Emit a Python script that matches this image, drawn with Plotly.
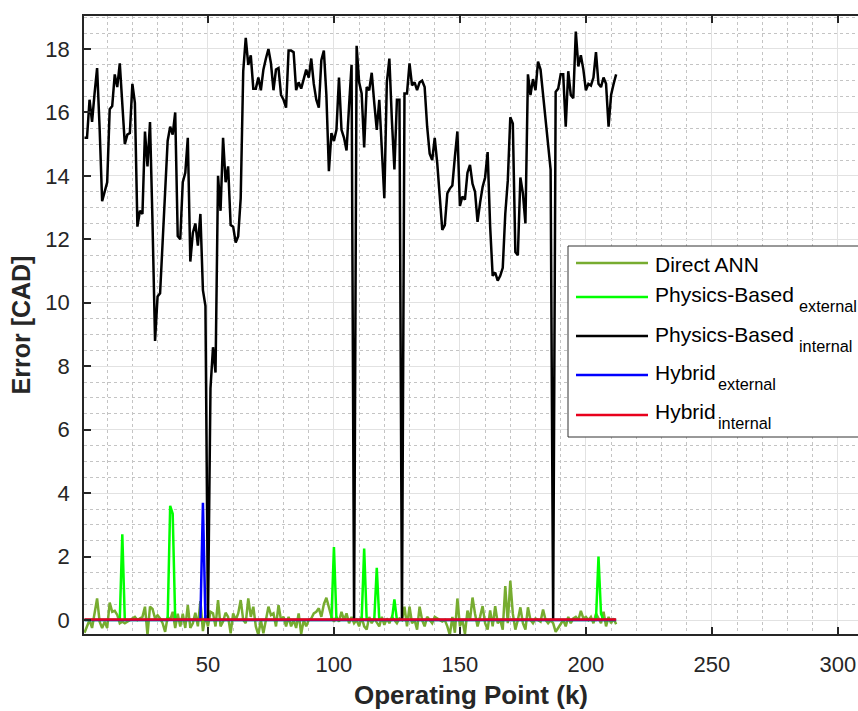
import plotly.graph_objects as go

# ---------------- data ----------------
direct_ann = [
    -0.40, -0.20, 0.00, -0.25, 0.20, 0.68, -0.05, -0.25, -0.05, -0.25,
    0.55, 0.26, 0.29, 0.16, -0.10, -0.05, -0.10, -0.05, 0.00, 0.05,
    0.10, 0.00, 0.05, 0.10, 0.42, -0.47, 0.42, 0.35, 0.05, 0.15,
    0.05, -0.10, -0.37, 0.10, 0.00, 0.26, -0.25, 0.20, -0.20, 0.20,
    -0.25, 0.47, -0.25, -0.10, 0.23, -0.20, 0.60, -0.35, 0.15, -0.20,
    0.26, 0.21, -0.20, 0.63, -0.20, -0.05, 0.23, 0.10, -0.42, 0.21,
    0.00, 0.21, 0.63, 0.00, -0.10, 0.68, 0.10, 0.42, -0.20, -0.47,
    0.00, -0.42, 0.00, 0.42, 0.16, 0.21, -0.20, 0.47, 0.00, 0.10,
    -0.20, 0.10, -0.20, 0.00, -0.25, 0.21, -0.44, 0.00, -0.20, 0.00,
    0.05, 0.21, 0.26, 0.37, 0.10, 0.50, 0.70, 0.40, 0.10, -0.05,
    0.10, -0.05, 0.26, 0.00, 0.21, -0.10, 0.10, -0.10, 0.00, -0.20,
    0.10, -0.20, -0.30, 0.10, -0.10, 0.05, -0.10, -0.20, 0.10, -0.15,
    0.05, -0.10, 0.10, 0.00, -0.10, 0.05, 0.00, 0.42, -0.20, 0.42,
    -0.10, 0.00, -0.30, 0.42, 0.00, -0.20, 0.10, 0.00, -0.10, 0.10,
    0.05, 0.00, -0.05, 0.00, -0.20, -0.47, 0.10, -0.40, 0.68, -0.20,
    0.00, -0.44, 0.30, 0.00, 0.71, 0.20, -0.20, 0.10, 0.44, -0.10,
    -0.30, 0.30, -0.20, 0.44, -0.10, 0.00, -0.30, 1.07, -0.10, 1.24,
    0.20, -0.30, 0.00, 0.40, -0.10, -0.30, 0.40, 0.00, -0.10, 0.05,
    0.00, -0.05, 0.33, 0.00, -0.10, 0.00, -0.10, -0.37, -0.25, -0.10,
    0.00, -0.20, 0.10, -0.10, 0.05, 0.10, 0.00, 0.29, 0.05, 0.10,
    0.00, 0.10, -0.10, 0.20, 0.05, -0.10, 0.26, -0.20, 0.10, -0.10,
    0.05, -0.13,
]

physics_internal = [
    15.2, 15.2, 16.4, 15.7, 16.6, 17.4, 15.5, 13.2, 13.5, 13.8,
    16.1, 16.2, 17.2, 16.8, 17.55, 16.2, 15.0, 15.3, 15.35, 16.9,
    16.3, 12.4, 12.9, 12.8, 15.4, 14.3, 15.7, 12.5, 8.8, 10.2,
    10.3, 11.9, 13.5, 15.1, 15.55, 15.3, 16.0, 12.1, 12.0, 13.8,
    14.1, 15.2, 11.3, 12.2, 12.5, 11.8, 12.8, 10.4, 9.9, 0.0,
    7.3, 8.6, 7.8, 14.0, 12.9, 15.2, 13.8, 14.3, 12.45, 12.4,
    11.9, 12.1, 13.3, 17.3, 18.35, 17.5, 17.8, 16.75, 16.75, 17.1,
    16.7, 17.35, 17.7, 18.0, 17.55, 16.7, 17.35, 17.4, 16.55, 16.4,
    16.15, 17.95, 17.95, 17.9, 16.7, 16.95, 16.75, 17.1, 17.35, 17.1,
    17.7, 16.9, 16.4, 16.15, 17.65, 17.95, 16.55, 14.15, 15.35, 15.1,
    15.45, 17.1, 15.45, 15.2, 14.8, 16.2, 17.5, 0.0, 18.1, 16.95,
    16.6, 14.9, 16.8, 16.7, 17.25, 16.3, 15.45, 16.4, 14.9, 13.3,
    16.95, 17.7, 15.75, 14.2, 16.4, 16.4, 0.0, 16.6, 16.6, 17.55,
    16.85, 16.95, 16.7, 16.95, 17.0, 16.8, 15.55, 14.7, 14.5, 15.2,
    14.4, 13.4, 12.3, 12.45, 13.45, 13.6, 13.7, 14.6, 15.4, 13.05,
    13.35, 13.25, 14.1, 14.35, 13.75, 13.5, 12.55, 13.15, 13.65, 13.95,
    14.75, 12.4, 10.85, 10.95, 10.7, 10.85, 11.1, 12.8, 13.85, 15.85,
    15.65, 11.6, 11.5, 13.95, 13.45, 12.5, 17.2, 16.55, 17.05, 16.7,
    17.6, 17.35, 16.5, 15.7, 15.0, 14.2, 0.0, 16.65, 16.75, 17.2,
    17.2, 15.55, 17.3, 16.55, 16.45, 18.55, 17.45, 17.8, 17.35, 16.7,
    16.9, 16.85, 17.1, 17.9, 16.9, 16.8, 17.1, 16.9, 15.55, 16.55,
    16.9, 17.2,
]

physics_external = [
    0, 0, 0, 0, 0, 0, 0, 0, 0, 0,          # 1-10
    0, 0, 0, 0, 0, 2.7, 0, 0, 0, 0,        # 11-20
    0, 0, 0, 0, 0, 0, 0, 0, 0, 0,          # 21-30
    0, 0, 0, 0, 3.6, 3.35, 0, 0, 0, 0,     # 31-40
    0, 0, 0, 0, 0, 0, 0, 0, 0, 0,          # 41-50
    0, 0, 0, 0, 0, 0, 0, 0, 0, 0,          # 51-60
    0, 0, 0, 0, 0, 0, 0, 0, 0, 0,          # 61-70
    0, 0, 0, 0, 0, 0, 0, 0, 0, 0,          # 71-80
    0, 0, 0, 0, 0, 0, 0, 0, 0, 0,          # 81-90
    0, 0, 0, 0, 0, 0, 0, 0, 0, 2.3,        # 91-100
    0, 0, 0, 0, 0, 0, 0, 0, 0, 0,          # 101-110
    0, 2.25, 0, 0, 0, 0, 1.65, 0, 0, 0,    # 111-120
    0, 0, 0, 0.65, 0, 0, 0, 0, 0, 0,       # 121-130
    0, 0, 0, 0, 0, 0, 0, 0, 0, 0,          # 131-140
    0, 0, 0, 0, 0, 0, 0, 0, 0, 0,          # 141-150
    0, 0, 0, 0, 0, 0, 0, 0, 0, 0,          # 151-160
    0, 0, 0, 0, 0, 0, 0, 0, 0, 0,          # 161-170
    0, 0, 0, 0, 0, 0, 0, 0, 0, 0,          # 171-180
    0, 0, 0, 0, 0, 0, 0, 0, 0, 0,          # 181-190
    0, 0, 0, 0, 0, 0, 0, 0, 0, 0,          # 191-200
    0, 0, 0, 0, 2.0, 0.2, 0, 0, 0, 0,      # 201-210
    0, 0,                                  # 211-212
]

hybrid_external = [
    0, 0, 0, 0, 0, 0, 0, 0, 0, 0,          # 1-10
    0, 0, 0, 0, 0, 0, 0, 0, 0, 0,          # 11-20
    0, 0, 0, 0, 0, 0, 0, 0, 0, 0,          # 21-30
    0, 0, 0, 0, 0, 0, 0, 0, 0, 0,          # 31-40
    0, 0, 0, 0, 0, 0, 0, 3.7, 0, 0,        # 41-50
    0, 0, 0, 0, 0, 0, 0, 0, 0, 0,          # 51-60
    0, 0, 0, 0, 0, 0, 0, 0, 0, 0,          # 61-70
    0, 0, 0, 0, 0, 0, 0, 0, 0, 0,          # 71-80
    0, 0, 0, 0, 0, 0, 0, 0, 0, 0,          # 81-90
    0, 0, 0, 0, 0, 0, 0, 0, 0, 0,          # 91-100
    0, 0, 0, 0, 0, 0, 0, 0, 0, 0,          # 101-110
    0, 0, 0, 0, 0, 0, 0, 0, 0, 0,          # 111-120
    0, 0, 0, 0, 0, 0, 0, 0, 0, 0,          # 121-130
    0, 0, 0, 0, 0, 0, 0, 0, 0, 0,          # 131-140
    0, 0, 0, 0, 0, 0, 0, 0, 0, 0,          # 141-150
    0, 0, 0, 0, 0, 0, 0, 0, 0, 0,          # 151-160
    0, 0, 0, 0, 0, 0, 0, 0, 0, 0,          # 161-170
    0, 0, 0, 0, 0, 0, 0, 0, 0, 0,          # 171-180
    0, 0, 0, 0, 0, 0, 0, 0, 0, 0,          # 181-190
    0, 0, 0, 0, 0, 0, 0, 0, 0, 0,          # 191-200
    0, 0, 0, 0, 0, 0, 0, 0, 0, 0,          # 201-210
    0, 0,                                  # 211-212
]

hybrid_internal = [
    0.02, 0.02, 0.02, 0.02, 0.02, 0.02, 0.02, 0.02, 0.02, 0.02,
    0.02, 0.02, 0.02, 0.02, 0.02, 0.02, 0.02, 0.02, 0.02, 0.02,
    0.02, 0.02, 0.02, 0.02, 0.02, 0.02, 0.02, 0.02, 0.02, 0.02,
    0.02, 0.02, 0.02, 0.02, 0.02, 0.02, 0.02, 0.02, 0.02, 0.02,
    0.02, 0.02, 0.02, 0.02, 0.02, 0.02, 0.02, 0.02, 0.02, 0.02,
    0.02, 0.02, 0.02, 0.02, 0.02, 0.02, 0.02, 0.02, 0.02, 0.02,
    0.02, 0.02, 0.02, 0.02, 0.02, 0.02, 0.02, 0.02, 0.02, 0.02,
    0.02, 0.02, 0.02, 0.02, 0.02, 0.02, 0.02, 0.02, 0.02, 0.02,
    0.02, 0.02, 0.02, 0.02, 0.02, 0.02, 0.02, 0.02, 0.02, 0.02,
    0.02, 0.02, 0.02, 0.02, 0.02, 0.02, 0.02, 0.02, 0.02, 0.02,
    0.02, 0.02, 0.02, 0.02, 0.02, 0.02, 0.02, 0.02, 0.02, 0.02,
    0.02, 0.02, 0.02, 0.02, 0.02, 0.02, 0.02, 0.02, 0.02, 0.02,
    0.02, 0.02, 0.02, 0.02, 0.02, 0.02, 0.02, 0.02, 0.02, 0.02,
    0.02, 0.02, 0.02, 0.02, 0.02, 0.02, 0.02, 0.02, 0.02, 0.02,
    0.02, 0.02, 0.02, 0.02, 0.02, 0.02, 0.02, 0.02, 0.02, 0.02,
    0.02, 0.02, 0.02, 0.02, 0.02, 0.02, 0.02, 0.02, 0.02, 0.02,
    0.02, 0.02, 0.02, 0.02, 0.02, 0.02, 0.02, 0.02, 0.02, 0.02,
    0.02, 0.02, 0.02, 0.02, 0.02, 0.02, 0.02, 0.02, 0.02, 0.02,
    0.02, 0.02, 0.02, 0.02, 0.02, 0.02, 0.02, 0.02, 0.02, 0.02,
    0.02, 0.02, 0.02, 0.02, 0.02, 0.02, 0.02, 0.02, 0.02, 0.02,
    0.02, 0.02, 0.02, 0.02, 0.02, 0.02, 0.02, 0.02, 0.02, 0.02,
    0.02, 0.02,
]

series_main = ["Direct ANN", "Physics-Based", "Physics-Based", "Hybrid", "Hybrid"]
series_sub = ["", "external", "internal", "external", "internal"]
series_values = [direct_ann, physics_external, physics_internal, hybrid_external, hybrid_internal]
series_colors = ["#77AC30", "#00FF00", "#000000", "#0000FF", "#E8001C"]

x_ticks = [50, 100, 150, 200, 250, 300]
y_ticks = [0, 2, 4, 6, 8, 10, 12, 14, 16, 18]

# ---------------- figure ----------------
FONT = "Liberation Sans, Arial, Helvetica, sans-serif"
AX = "#262626"

fig = go.Figure()
for main, sub, vals, col in zip(series_main, series_sub, series_values, series_colors):
    name = main + (f"<sub>{sub}</sub>" if sub else "")
    fig.add_trace(go.Scatter(
        x=list(range(1, len(vals) + 1)), y=vals, mode="lines", name=name,
        line=dict(color=col, width=2.5), showlegend=False,
    ))

W, H = 858, 711
ML, MR, MT, MB = 84, 0, 16, 77
pw, ph = W - ML - MR, H - MT - MB


def px_x(p):
    return (p - ML) / pw


def px_y(p):
    return (H - MB - p) / ph


shapes = []
annotations = []
# legend box (extends past the right edge like the reference)
shapes.append(dict(type="rect", xref="paper", yref="paper",
                   x0=px_x(568), x1=px_x(990), y0=px_y(437), y1=px_y(246),
                   fillcolor="white", line=dict(color="#333333", width=1), layer="above"))
sample_y = [263, 297, 336, 375, 415]
main_y = [264, 294, 334, 372, 411]
sub_x = [None, 797, 797, 716, 716]
for main, sub, col, sy, my, sx in zip(series_main, series_sub, series_colors, sample_y, main_y, sub_x):
    shapes.append(dict(type="line", xref="paper", yref="paper",
                       x0=px_x(576), x1=px_x(648), y0=px_y(sy), y1=px_y(sy),
                       line=dict(color=col, width=2.5), layer="above"))
    annotations.append(dict(xref="paper", yref="paper", x=px_x(653), y=px_y(my),
                            xanchor="left", yanchor="middle", showarrow=False,
                            text=main, font=dict(family=FONT, size=21, color="black")))
    if sub:
        annotations.append(dict(xref="paper", yref="paper", x=px_x(sx), y=px_y(my + 12),
                                xanchor="left", yanchor="middle", showarrow=False,
                                text=sub, font=dict(family=FONT, size=16.3, color="black")))

fig.update_layout(
    width=W, height=H,
    margin=dict(l=ML, r=MR, t=MT, b=MB, autoexpand=False),
    paper_bgcolor="white", plot_bgcolor="white",
    font=dict(family=FONT, color=AX),
    shapes=shapes, annotations=annotations,
    showlegend=False,
)
fig.update_xaxes(
    range=[0.8, 308], tickvals=x_ticks, ticktext=[str(v) for v in x_ticks],
    showline=True, linecolor=AX, linewidth=1.5, mirror="ticks",
    ticks="inside", ticklen=7, tickwidth=1.5, tickcolor=AX,
    showgrid=True, gridcolor="#e2e2e2", gridwidth=1,
    minor=dict(dtick=10, tick0=0, showgrid=True, gridcolor="#c4c4c4", griddash="dot", gridwidth=1),
    zeroline=False, tickfont=dict(size=22, color=AX, family=FONT),
    ticklabelstandoff=10,
    title=dict(text="<b>Operating Point (k)</b>", font=dict(size=26, color=AX, family=FONT), standoff=10),
    automargin=False,
)
fig.update_yaxes(
    range=[-0.44, 19.04], tickvals=y_ticks, ticktext=[str(v) for v in y_ticks],
    showline=True, linecolor=AX, linewidth=1.5, mirror=False,
    ticks="inside", ticklen=7, tickwidth=1.5, tickcolor=AX,
    showgrid=True, gridcolor="#e2e2e2", gridwidth=1,
    minor=dict(dtick=0.5, tick0=0, showgrid=True, gridcolor="#c4c4c4", griddash="dot", gridwidth=1),
    zeroline=False, tickfont=dict(size=22, color=AX, family=FONT),
    ticklabelstandoff=8,
    title=dict(text="<b>Error [CAD]</b>", font=dict(size=25, color=AX, family=FONT), standoff=8),
    automargin=False,
)

fig.write_html("out.html")
